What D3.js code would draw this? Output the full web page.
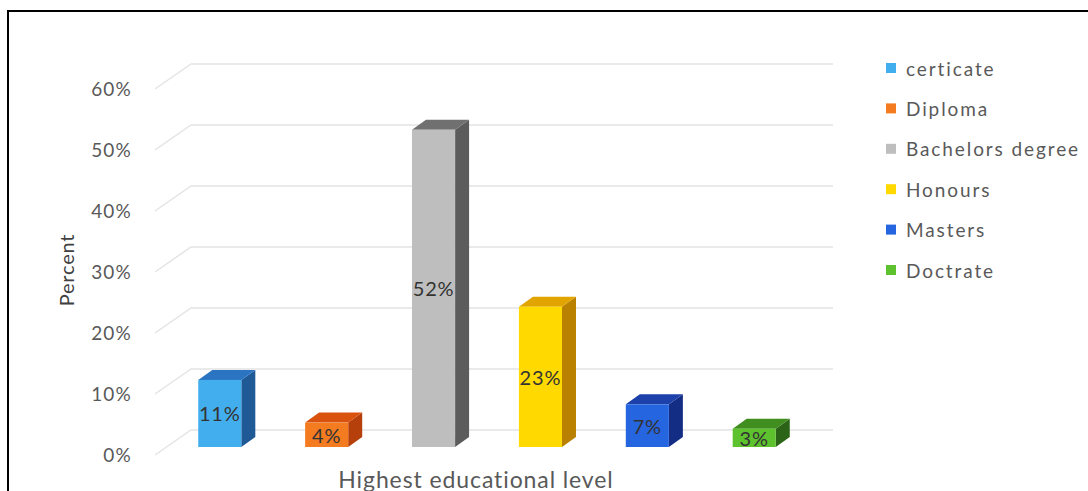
<!DOCTYPE html>
<html>
<head>
<meta charset="utf-8">
<script src="https://cdn.jsdelivr.net/npm/d3@7"></script>
<style>
  html, body { margin: 0; padding: 0; background: #fff; }
  svg { display: block; font-family: Lato, "Open Sans", sans-serif; }
</style>
</head>
<body>
<svg id="chart" width="1088" height="491"></svg>
<script>
// Highest educational level of respondents (percent)
const categories = ["certicate", "Diploma", "Bachelors degree", "Honours", "Masters", "Doctrate"];
const percents = [11, 4, 52, 23, 7, 3];
const tickValues = [0, 10, 20, 30, 40, 50, 60];
const frontColors = ["#43AEEE", "#F47B20", "#BEBEBE", "#FFD900", "#2665E0", "#5EC22E"];
const topColors   = ["#2A74C2", "#D9530F", "#707070", "#E2A500", "#1C41AA", "#3F8E1F"];
const sideColors  = ["#1F5996", "#B5400C", "#5C5C5C", "#BA8100", "#142D84", "#2C6417"];

const svg = d3.select("#chart");

// outer frame
svg.append("rect")
  .attr("x", 8).attr("y", 11).attr("width", 1100).attr("height", 500)
  .attr("fill", "none").attr("stroke", "#000").attr("stroke-width", 2);

// depth of the 3D floor/wall and of each bar
const wallDx = 36, wallDy = -25;
const barDx = 14, barDy = -10;

// value scales: front floor edge, and the bar front plane
const yFront = d3.scaleLinear().domain([0, 60]).range([455, 89]);
const yBar = d3.scaleLinear().domain([0, 60]).range([447, 81]);
const x = d3.scaleBand().domain(categories).range([148, 826])
  .paddingInner(0.597).paddingOuter(0.47);

const wallLeft = 155, wallRight = 833;

// gridlines: diagonal on the side wall then across the back wall
const grid = svg.append("g");
tickValues.forEach(v => {
  const yf = yFront(v), yb = yf + wallDy;
  grid.append("path")
    .attr("d", `M${wallLeft},${yf}L${wallLeft + wallDx},${yb}L${wallRight},${yb}`)
    .attr("fill", "none").attr("stroke", "#E4E4E4").attr("stroke-width", 1.5);
});

// y axis tick labels
const yAxis = d3.axisLeft(yFront).tickValues(tickValues)
  .tickFormat(d => d + "%").tickSize(0).tickPadding(0);
const ya = svg.append("g").attr("transform", "translate(132,0)").call(yAxis);
ya.select(".domain").remove();
ya.selectAll("text").attr("font-size", 19).attr("fill", "#595959")
  .attr("letter-spacing", 1.2)
  .attr("font-family", "Lato, sans-serif");

// bars
const bars = svg.append("g");
categories.forEach((c, i) => {
  const v = percents[i];
  const x0 = x(c), x1 = x0 + x.bandwidth();
  const yt = yBar(v), yb = yBar(0);
  const g = bars.append("g");
  // side face
  g.append("path")
    .attr("d", `M${x1},${yt}L${x1 + barDx},${yt + barDy}L${x1 + barDx},${yb + barDy}L${x1},${yb}Z`)
    .attr("fill", sideColors[i]);
  // top face
  g.append("path")
    .attr("d", `M${x0},${yt}L${x1},${yt}L${x1 + barDx},${yt + barDy}L${x0 + barDx},${yt + barDy}Z`)
    .attr("fill", topColors[i]);
  // front face
  g.append("rect")
    .attr("x", x0).attr("y", yt).attr("width", x1 - x0).attr("height", yb - yt)
    .attr("fill", frontColors[i]);
  // value label
  g.append("text")
    .attr("x", (x0 + x1) / 2).attr("y", (yt + yb) / 2)
    .attr("text-anchor", "middle").attr("dominant-baseline", "central")
    .attr("font-size", 20).attr("letter-spacing", 0.8).attr("fill", "#333")
    .text(v + "%");
});

// axis titles
svg.append("text")
  .attr("transform", "translate(66,270) rotate(-90)")
  .attr("text-anchor", "middle").attr("dominant-baseline", "central")
  .attr("font-size", 20).attr("letter-spacing", 0.8).attr("fill", "#404040")
  .text("Percent");

svg.append("text")
  .attr("x", 476).attr("y", 488)
  .attr("text-anchor", "middle")
  .attr("font-size", 23).attr("letter-spacing", 0.9).attr("fill", "#595959")
  .text("Highest educational level");

// legend
const legend = svg.append("g");
categories.forEach((c, i) => {
  const cy = 68 + i * 40.4;
  legend.append("rect")
    .attr("x", 886).attr("y", cy - 5).attr("width", 10).attr("height", 10)
    .attr("fill", frontColors[i]);
  legend.append("text")
    .attr("x", 906).attr("y", cy)
    .attr("dominant-baseline", "central")
    .attr("font-size", 19).attr("letter-spacing", 1.9).attr("fill", "#595959")
    .text(c);
});
</script>
</body>
</html>
